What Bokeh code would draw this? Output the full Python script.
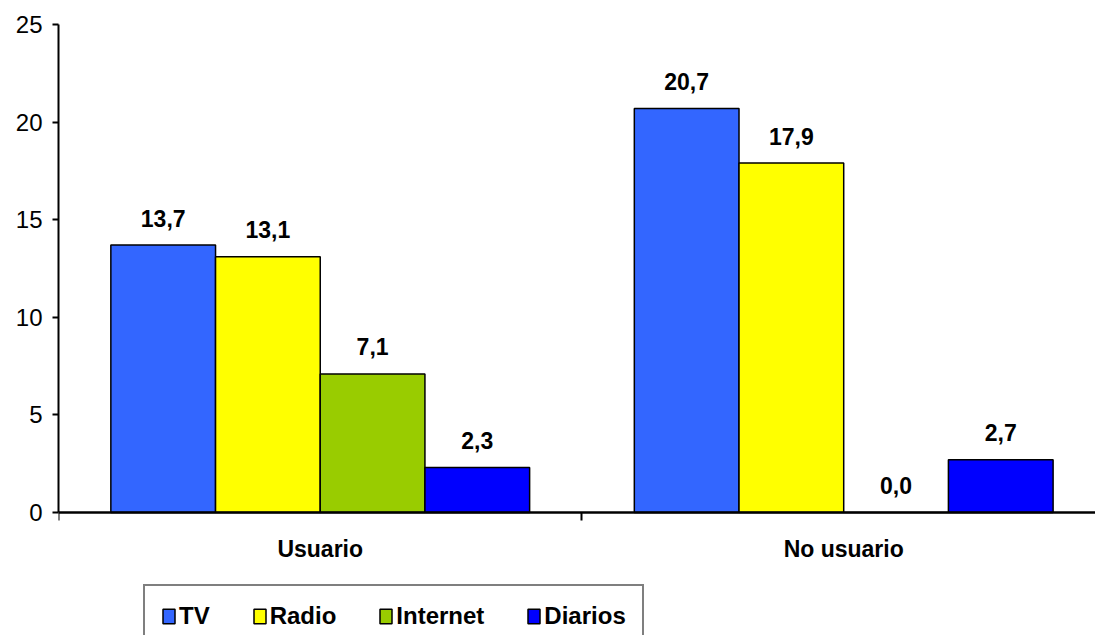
from bokeh.plotting import figure
from bokeh.models import ColumnDataSource, FixedTicker, Legend, LegendItem, Range1d
from bokeh.core.properties import value
from bokeh.embed import file_html
from bokeh.resources import INLINE

categories = ["Usuario", "No usuario"]
series = ["TV", "Radio", "Internet", "Diarios"]
colors = ["#3366FF", "#FFFF00", "#99CC00", "#0000FF"]
values = {
    "TV": [13.7, 20.7],
    "Radio": [13.1, 17.9],
    "Internet": [7.1, 0.0],
    "Diarios": [2.3, 2.7],
}
y_ticks = [0, 5, 10, 15, 20, 25]

FONT = "Liberation Sans"
bar_w = 0.2
n = len(series)

p = figure(width=1095, height=635, output_backend="svg", toolbar_location=None,
           x_range=Range1d(0, 1.981), y_range=Range1d(-6.30, 25),
           min_border_left=58, min_border_right=0, min_border_top=24, min_border_bottom=0)
p.outline_line_color = None
p.xgrid.grid_line_color = None
p.ygrid.grid_line_color = None
p.background_fill_color = "white"
p.border_fill_color = "white"

items = []
for j, s in enumerate(series):
    xs = [i + 0.5 + (j - (n - 1) / 2) * bar_w for i in range(len(categories))]
    vals = values[s]
    src = ColumnDataSource(dict(x=xs, top=vals,
                                label=[f"{v:.1f}".replace(".", ",") for v in vals]))
    r = p.vbar(x="x", top="top", bottom=0, width=bar_w, source=src, fill_color=colors[j],
               line_color="black", line_width=1.5)
    p.text(x="x", y="top", text="label", source=src, text_align="center",
           text_baseline="alphabetic", y_offset=-27, text_font=value(FONT),
           text_font_size="23px", text_font_style="bold", text_color="black")
    items.append(LegendItem(label=s, renderers=[r]))

# y axis
ya = p.yaxis[0]
ya.ticker = FixedTicker(ticks=y_ticks, minor_ticks=[])
ya.bounds = (0, 25)
ya.axis_line_width = 2
ya.axis_line_color = "black"
ya.major_tick_line_width = 2
ya.major_tick_in = 0
ya.major_tick_out = 6
ya.minor_tick_line_color = None
ya.major_label_text_font = FONT
ya.major_label_text_font_size = "24px"
ya.major_label_text_color = "black"
ya.major_label_standoff = 10

# x axis, placed at y = 0
xa = p.xaxis[0]
xa.fixed_location = 0
xa.ticker = FixedTicker(ticks=[i + 0.5 for i in range(len(categories))],
                        minor_ticks=list(range(len(categories) + 1)))
xa.major_label_overrides = {i + 0.5: c for i, c in enumerate(categories)}
xa.axis_line_width = 2.5
xa.axis_line_color = "black"
xa.major_tick_line_color = None
xa.major_tick_in = 0
xa.major_tick_out = 0
xa.minor_tick_line_width = 2
xa.minor_tick_line_color = "black"
xa.minor_tick_in = 0
xa.minor_tick_out = 8
xa.major_label_text_font = FONT
xa.major_label_text_font_size = "23px"
xa.major_label_text_font_style = "bold"
xa.major_label_text_color = "black"
xa.major_label_standoff = 15

legend = Legend(items=items, orientation="horizontal", location=(85, -13),
                label_text_font=FONT, label_text_font_size="24px",
                label_text_font_style="bold", label_text_color="black",
                glyph_width=15, glyph_height=18, label_standoff=3, spacing=42,
                padding=16, margin=0, border_line_color="black", border_line_width=2,
                background_fill_color="white", background_fill_alpha=1)
p.add_layout(legend, "center")

open("out.html", "w").write(file_html(p, INLINE))
